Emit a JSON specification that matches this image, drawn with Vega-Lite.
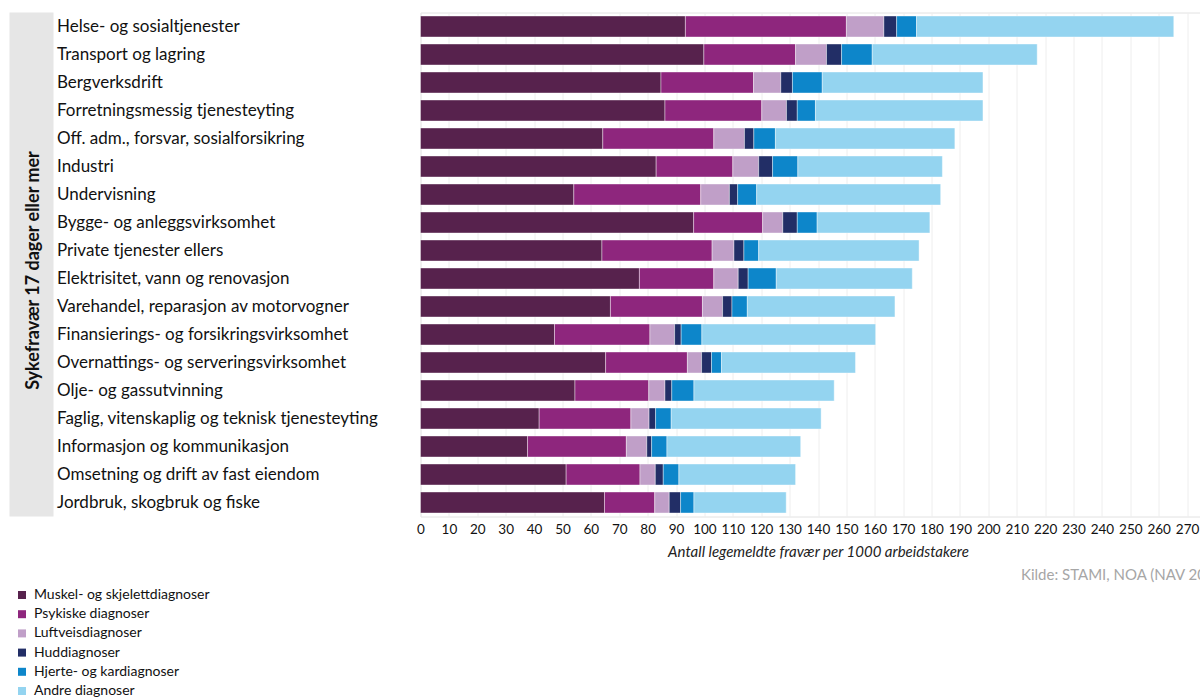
{
  "$schema": "https://vega.github.io/schema/vega-lite/v6.json",
  "padding": {"left": 9.5, "top": 11.5, "right": 0, "bottom": 0},
  "background": "white",
  "spacing": 2,
  "config": {"font": "Lato", "view": {"stroke": null}},
  "datasets": {
    "bransjer": [
      {"bransje": "Helse- og sosialtjenester", "Muskel- og skjelettdiagnoser": 93.3, "Psykiske diagnoser": 56.7, "Luftveisdiagnoser": 13.2, "Huddiagnoser": 4.5, "Hjerte- og kardiagnoser": 7.0, "Andre diagnoser": 90.6},
      {"bransje": "Transport og lagring", "Muskel- og skjelettdiagnoser": 99.8, "Psykiske diagnoser": 32.3, "Luftveisdiagnoser": 10.9, "Huddiagnoser": 5.3, "Hjerte- og kardiagnoser": 10.8, "Andre diagnoser": 58.1},
      {"bransje": "Bergverksdrift", "Muskel- og skjelettdiagnoser": 84.7, "Psykiske diagnoser": 32.6, "Luftveisdiagnoser": 9.6, "Huddiagnoser": 4.1, "Hjerte- og kardiagnoser": 10.5, "Andre diagnoser": 56.6},
      {"bransje": "Forretningsmessig tjenesteyting", "Muskel- og skjelettdiagnoser": 86.1, "Psykiske diagnoser": 34.1, "Luftveisdiagnoser": 8.7, "Huddiagnoser": 3.8, "Hjerte- og kardiagnoser": 6.4, "Andre diagnoser": 59.0},
      {"bransje": "Off. adm., forsvar, sosialforsikring", "Muskel- og skjelettdiagnoser": 64.2, "Psykiske diagnoser": 39.1, "Luftveisdiagnoser": 10.8, "Huddiagnoser": 3.3, "Hjerte- og kardiagnoser": 7.6, "Andre diagnoser": 63.2},
      {"bransje": "Industri", "Muskel- og skjelettdiagnoser": 83.0, "Psykiske diagnoser": 27.0, "Luftveisdiagnoser": 9.1, "Huddiagnoser": 4.9, "Hjerte- og kardiagnoser": 8.9, "Andre diagnoser": 50.9},
      {"bransje": "Undervisning", "Muskel- og skjelettdiagnoser": 54.0, "Psykiske diagnoser": 44.7, "Luftveisdiagnoser": 10.1, "Huddiagnoser": 2.9, "Hjerte- og kardiagnoser": 6.7, "Andre diagnoser": 64.8},
      {"bransje": "Bygge- og anleggsvirksomhet", "Muskel- og skjelettdiagnoser": 96.2, "Psykiske diagnoser": 24.3, "Luftveisdiagnoser": 7.1, "Huddiagnoser": 5.1, "Hjerte- og kardiagnoser": 7.0, "Andre diagnoser": 39.7},
      {"bransje": "Private tjenester ellers", "Muskel- og skjelettdiagnoser": 63.9, "Psykiske diagnoser": 38.8, "Luftveisdiagnoser": 7.7, "Huddiagnoser": 3.5, "Hjerte- og kardiagnoser": 5.2, "Andre diagnoser": 56.5},
      {"bransje": "Elektrisitet, vann og renovasjon", "Muskel- og skjelettdiagnoser": 77.1, "Psykiske diagnoser": 26.2, "Luftveisdiagnoser": 8.6, "Huddiagnoser": 3.5, "Hjerte- og kardiagnoser": 9.9, "Andre diagnoser": 47.9},
      {"bransje": "Varehandel, reparasjon av motorvogner", "Muskel- og skjelettdiagnoser": 66.9, "Psykiske diagnoser": 32.4, "Luftveisdiagnoser": 7.1, "Huddiagnoser": 3.3, "Hjerte- og kardiagnoser": 5.4, "Andre diagnoser": 52.0},
      {"bransje": "Finansierings- og forsikringsvirksomhet", "Muskel- og skjelettdiagnoser": 47.2, "Psykiske diagnoser": 33.6, "Luftveisdiagnoser": 8.7, "Huddiagnoser": 2.3, "Hjerte- og kardiagnoser": 7.3, "Andre diagnoser": 61.2},
      {"bransje": "Overnattings- og  serveringsvirksomhet", "Muskel- og skjelettdiagnoser": 65.2, "Psykiske diagnoser": 28.8, "Luftveisdiagnoser": 5.0, "Huddiagnoser": 3.5, "Hjerte- og kardiagnoser": 3.5, "Andre diagnoser": 47.2},
      {"bransje": "Olje- og gassutvinning", "Muskel- og skjelettdiagnoser": 54.4, "Psykiske diagnoser": 26.0, "Luftveisdiagnoser": 5.7, "Huddiagnoser": 2.4, "Hjerte- og kardiagnoser": 7.8, "Andre diagnoser": 49.4},
      {"bransje": "Faglig, vitenskaplig og teknisk tjenesteyting", "Muskel- og skjelettdiagnoser": 41.8, "Psykiske diagnoser": 32.3, "Luftveisdiagnoser": 6.4, "Huddiagnoser": 2.3, "Hjerte- og kardiagnoser": 5.5, "Andre diagnoser": 52.8},
      {"bransje": "Informasjon og  kommunikasjon", "Muskel- og skjelettdiagnoser": 37.7, "Psykiske diagnoser": 34.8, "Luftveisdiagnoser": 7.2, "Huddiagnoser": 1.7, "Hjerte- og kardiagnoser": 5.4, "Andre diagnoser": 47.1},
      {"bransje": "Omsetning og drift av fast eiendom", "Muskel- og skjelettdiagnoser": 51.3, "Psykiske diagnoser": 26.0, "Luftveisdiagnoser": 5.4, "Huddiagnoser": 2.8, "Hjerte- og kardiagnoser": 5.5, "Andre diagnoser": 41.1},
      {"bransje": "Jordbruk, skogbruk og fiske", "Muskel- og skjelettdiagnoser": 64.8, "Psykiske diagnoser": 17.7, "Luftveisdiagnoser": 5.1, "Huddiagnoser": 4.0, "Hjerte- og kardiagnoser": 4.7, "Andre diagnoser": 32.5}
    ],
    "diagnoser": [
      {"diagnose": "Muskel- og skjelettdiagnoser", "nr": 1},
      {"diagnose": "Psykiske diagnoser", "nr": 2},
      {"diagnose": "Luftveisdiagnoser", "nr": 3},
      {"diagnose": "Huddiagnoser", "nr": 4},
      {"diagnose": "Hjerte- og kardiagnoser", "nr": 5},
      {"diagnose": "Andre diagnoser", "nr": 6}
    ]
  },
  "hconcat": [
    {
      "width": 44,
      "height": 504,
      "view": {"fill": "#e6e6e6", "stroke": null},
      "data": {"values": [{"t": "Sykefravær 17 dager eller mer"}]},
      "mark": {"type": "text", "angle": 270, "fontWeight": "bold", "fontSize": 18, "font": "Lato", "color": "#111111", "baseline": "middle", "align": "center", "dx": -6, "dy": 2},
      "encoding": {"text": {"field": "t"}}
    },
    {
      "width": 795,
      "height": 504,
      "view": {"stroke": "#e2e2e2", "strokeWidth": 1},
      "data": {"name": "bransjer"},
      "transform": [
        {"fold": ["Muskel- og skjelettdiagnoser", "Psykiske diagnoser", "Luftveisdiagnoser", "Huddiagnoser", "Hjerte- og kardiagnoser", "Andre diagnoser"], "as": ["diagnose", "verdi"]},
        {"lookup": "diagnose", "from": {"data": {"name": "diagnoser"}, "key": "diagnose", "fields": ["nr"]}}
      ],
      "title": {"text": "Kilde: STAMI, NOA (NAV 2016)", "orient": "bottom", "anchor": "end", "fontSize": 15, "fontWeight": "normal", "color": "#a6a6a6", "font": "Lato", "offset": 9},
      "mark": {"type": "bar", "stroke": "#ffffff", "strokeWidth": 0.8, "strokeOpacity": 0.5},
      "encoding": {
        "y": {
          "field": "bransje", "type": "nominal", "sort": null,
          "scale": {"paddingInner": 0.25, "paddingOuter": 0.125},
          "axis": {"title": null, "ticks": false, "tickSize": 0, "domain": false, "labelAlign": "left", "labelPadding": 364, "labelLimit": 362, "labelFontSize": 17, "labelFont": "Lato", "labelColor": "#111111", "grid": false}
        },
        "x": {
          "field": "verdi", "type": "quantitative", "stack": "zero",
          "scale": {"domain": [0, 280], "nice": false},
          "axis": {"title": "Antall legemeldte fravær per 1000 arbeidstakere", "titleFontStyle": "italic", "titleFontWeight": "normal", "titleFontSize": 15, "titleFont": "Lato", "titleColor": "#222222", "titlePadding": 8, "values": [0,10,20,30,40,50,60,70,80,90,100,110,120,130,140,150,160,170,180,190,200,210,220,230,240,250,260,270,280], "labelFontSize": 13.5, "labelFont": "Lato", "labelColor": "#111111", "labelPadding": 6, "ticks": false, "domain": false, "grid": true, "gridColor": "#eeeeee", "labelOverlap": false, "labelFlush": false}
        },
        "color": {
          "field": "diagnose", "type": "nominal",
          "scale": {"domain": ["Muskel- og skjelettdiagnoser", "Psykiske diagnoser", "Luftveisdiagnoser", "Huddiagnoser", "Hjerte- og kardiagnoser", "Andre diagnoser"], "range": ["#57224d", "#8e267d", "#c09fc8", "#222e66", "#0d86ca", "#94d4f0"]},
          "legend": {"title": null, "orient": "none", "legendX": 5.5, "legendY": 575.5, "direction": "vertical", "symbolType": "square", "symbolSize": 64, "symbolStrokeWidth": 0, "labelFontSize": 14, "labelFont": "Lato", "labelColor": "#111111", "labelOffset": 5, "rowPadding": 5.2, "padding": 0, "labelLimit": 400}
        },
        "order": {"field": "nr", "type": "quantitative"}
      }
    }
  ]
}
